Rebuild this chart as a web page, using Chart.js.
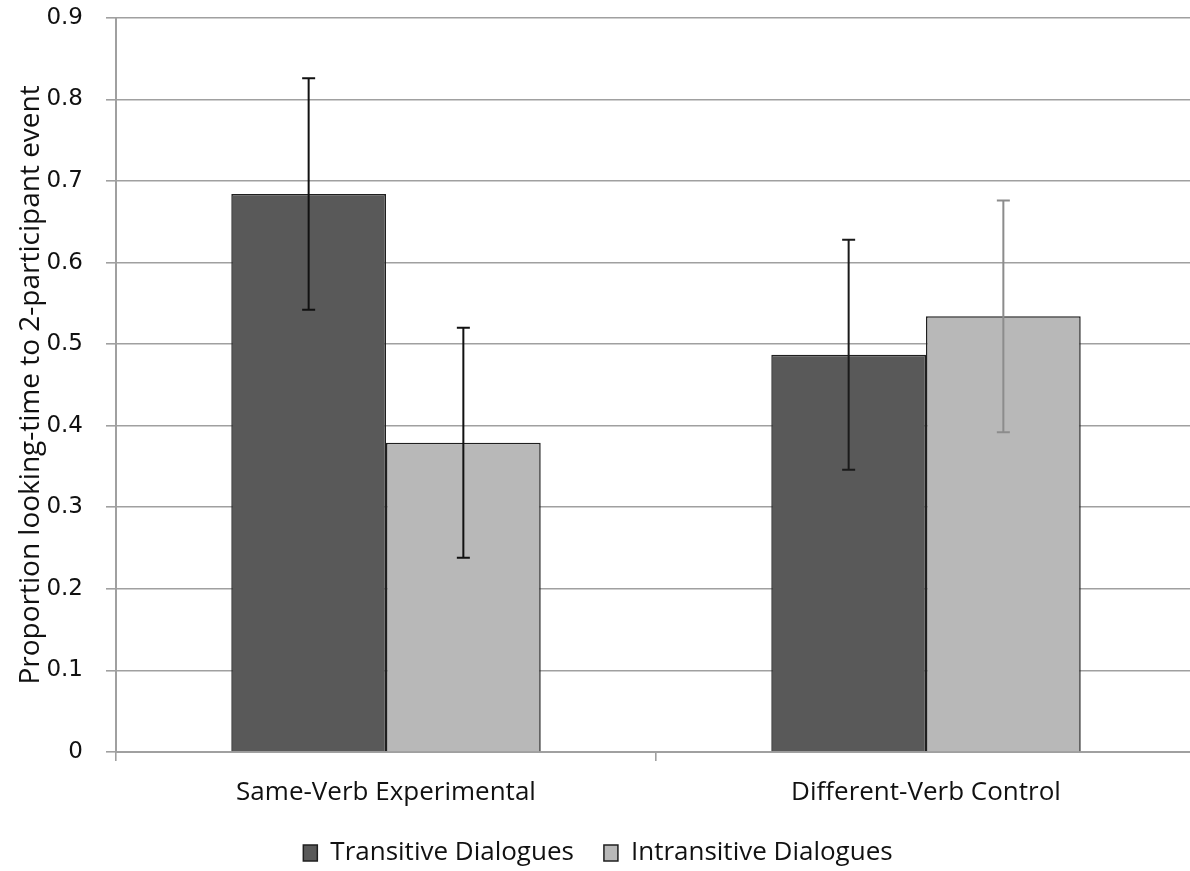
<!DOCTYPE html>
<html>
<head>
<meta charset="utf-8">
<script src="https://cdn.jsdelivr.net/npm/chart.js@4.4.1/dist/chart.umd.min.js"></script>
<style>
  html, body { margin: 0; padding: 0; background: #fff; overflow: hidden; }
  /* tick padding reserves space above the plot, so the canvas is nudged up */
  canvas { display: block; margin-top: -19px; }
</style>
</head>
<body>
<canvas id="lookChart" width="1196" height="890"></canvas>
<script>
const categories = ['Same-Verb Experimental', 'Different-Verb Control'];
const seriesNames = ['Transitive Dialogues', 'Intransitive Dialogues'];
const transitiveValues = [0.684, 0.487];
const intransitiveValues = [0.379, 0.534];
const transitiveErrors = [0.142, 0.141];
const intransitiveErrors = [0.141, 0.142];
const yTickLabels = ['0', '0.1', '0.2', '0.3', '0.4', '0.5', '0.6', '0.7', '0.8', '0.9'];

// whisker colours per bar (the right light bar has a grey one)
const errorColors = [['#111111', '#1a1a1a'], ['#111111', '#8c8c8c']];

const errorBarPlugin = {
    id: 'errorBars',
    afterDatasetsDraw(chart) {
        const ctx = chart.ctx;
        const yScale = chart.scales.y;
        const errs = [transitiveErrors, intransitiveErrors];
        chart.data.datasets.forEach((ds, di) => {
            const meta = chart.getDatasetMeta(di);
            meta.data.forEach((bar, i) => {
                const v = ds.data[i];
                const e = errs[di][i];
                const yTop = yScale.getPixelForValue(v + e);
                const yBot = yScale.getPixelForValue(v - e);
                ctx.save();
                ctx.strokeStyle = errorColors[di][i];
                ctx.lineWidth = 2;
                ctx.beginPath();
                ctx.moveTo(bar.x, yTop);
                ctx.lineTo(bar.x, yBot);
                ctx.moveTo(bar.x - 6.5, yTop);
                ctx.lineTo(bar.x + 6.5, yTop);
                ctx.moveTo(bar.x - 6.5, yBot);
                ctx.lineTo(bar.x + 6.5, yBot);
                ctx.stroke();
                ctx.restore();
            });
        });
    }
};

const ctx = document.getElementById('lookChart').getContext('2d');
new Chart(ctx, {
    type: 'bar',
    data: {
        labels: categories,
        datasets: [
            {
                label: seriesNames[0],
                data: transitiveValues,
                backgroundColor: '#595959',
                borderColor: '#1f1f1f',
                borderWidth: 1.5
            },
            {
                label: seriesNames[1],
                data: intransitiveValues,
                backgroundColor: '#b8b8b8',
                borderColor: '#1f1f1f',
                borderWidth: 1.5
            }
        ]
    },
    options: {
        responsive: false,
        animation: false,
        layout: { padding: { top: 0, right: 0, bottom: -5, left: 0 } },
        datasets: {
            bar: { categoryPercentage: 0.573, barPercentage: 1.0 }
        },
        scales: {
            y: {
                min: 0,
                max: 0.9,
                ticks: {
                    stepSize: 0.1,
                    padding: 23,
                    color: '#111',
                    font: { family: "'DejaVu Sans'", size: 23 },
                    callback: (v, i) => yTickLabels[i]
                },
                grid: {
                    color: '#a0a0a0',
                    lineWidth: 1.6,
                    tickLength: 10
                },
                border: { color: '#a0a0a0', width: 2 },
                title: {
                    display: true,
                    text: 'Proportion looking-time to 2-participant event',
                    color: '#111',
                    font: { family: "'Open Sans'", size: 28 },
                    padding: { top: 14, bottom: 0 }
                },
                afterFit: (scale) => { scale.width = 116; }
            },
            x: {
                ticks: {
                    padding: 16,
                    color: '#111',
                    font: { family: "'Open Sans'", size: 26 }
                },
                grid: {
                    offset: true,
                    drawOnChartArea: false,
                    color: '#a0a0a0',
                    lineWidth: 1.6,
                    tickLength: 9
                },
                border: { color: '#a0a0a0', width: 2 },
                afterFit: (scale) => { scale.height = 58; }
            }
        },
        plugins: {
            legend: {
                position: 'bottom',
                labels: {
                    boxWidth: 14,
                    boxHeight: 16,
                    padding: 30,
                    color: '#111',
                    font: { family: "'Open Sans'", size: 26 }
                }
            },
            tooltip: { enabled: false }
        }
    },
    plugins: [errorBarPlugin]
});
</script>
</body>
</html>
